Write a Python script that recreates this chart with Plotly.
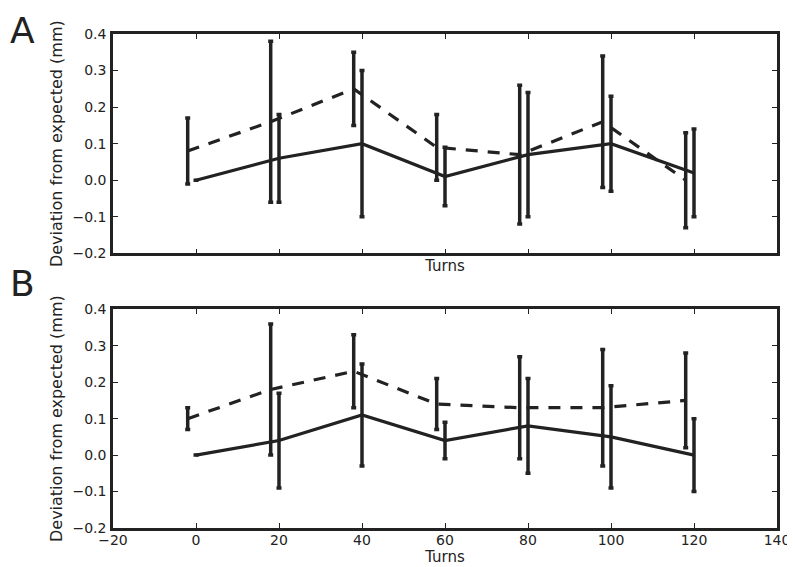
import plotly.graph_objects as go
from plotly.subplots import make_subplots

# ---- data ----
x_solid = [0, 20, 40, 60, 80, 100, 120]
x_dashed = [-2, 18, 38, 58, 78, 98, 118]

a_solid = [0.00, 0.06, 0.10, 0.01, 0.07, 0.10, 0.02]
a_solid_err = [0.00, 0.12, 0.20, 0.08, 0.17, 0.13, 0.12]
a_dashed = [0.08, 0.16, 0.25, 0.09, 0.07, 0.16, 0.00]
a_dashed_err = [0.09, 0.22, 0.10, 0.09, 0.19, 0.18, 0.13]

b_solid = [0.00, 0.04, 0.11, 0.04, 0.08, 0.05, 0.00]
b_solid_err = [0.00, 0.13, 0.14, 0.05, 0.13, 0.14, 0.10]
b_dashed = [0.10, 0.18, 0.23, 0.14, 0.13, 0.13, 0.15]
b_dashed_err = [0.03, 0.18, 0.10, 0.07, 0.14, 0.16, 0.13]

x_ticks = [-20, 0, 20, 40, 60, 80, 100, 120, 140]
y_ticks = [-0.2, -0.1, 0.0, 0.1, 0.2, 0.3, 0.4]

INK = "#222222"
FONT = "DejaVu Sans"

fig = make_subplots(rows=2, cols=1, shared_xaxes=False, vertical_spacing=0.0)

def add_panel(row, solid, solid_err, dashed, dashed_err):
    fig.add_trace(go.Scatter(
        x=x_dashed, y=dashed, mode="lines",
        line=dict(color=INK, width=3.2, dash="12px,10px"),
        error_y=dict(type="data", array=dashed_err, visible=True,
                     color=INK, thickness=3.5, width=2.5),
        showlegend=False, hoverinfo="skip"), row=row, col=1)
    fig.add_trace(go.Scatter(
        x=x_solid, y=solid, mode="lines",
        line=dict(color=INK, width=3.2),
        error_y=dict(type="data", array=solid_err, visible=True,
                     color=INK, thickness=3.5, width=2.5),
        showlegend=False, hoverinfo="skip"), row=row, col=1)

add_panel(1, a_solid, a_solid_err, a_dashed, a_dashed_err)
add_panel(2, b_solid, b_solid_err, b_dashed, b_dashed_err)

axis_common = dict(
    showline=True, linecolor=INK, linewidth=2.5, mirror="allticks",
    ticks="inside", ticklen=5, tickwidth=1, tickcolor=INK,
    showgrid=False, zeroline=False, automargin=False,
    tickfont=dict(family=FONT, size=14, color=INK),
)

for r, dom in [(1, [0.556, 1.0]), (2, [0.0, 0.4427])]:
    fig.update_xaxes(range=[-20, 140], tickvals=x_ticks,
                     ticktext=[("\u2212" if v < 0 else "") + str(abs(v)) for v in x_ticks],
                     title=dict(text="Turns", font=dict(family=FONT, size=15, color=INK),
                                standoff=5 if r == 2 else 6),
                     showticklabels=(r == 2),
                     ticklabelstandoff=-3,
                     row=r, col=1, **axis_common)
    fig.update_yaxes(range=[-0.2, 0.4], tickvals=y_ticks,
                     ticktext=[("\u2212" if v < 0 else "") + f"{abs(v):.1f}" for v in y_ticks],
                     domain=dom,
                     ticklabelstandoff=1,
                     title=dict(text="Deviation from expected (mm)",
                                font=dict(family=FONT, size=16, color=INK), standoff=6),
                     row=r, col=1, **axis_common)

fig.update_layout(
    width=787, height=559,
    margin=dict(l=105, r=18, t=26, b=39),
    paper_bgcolor="white", plot_bgcolor="white",
    font=dict(family=FONT, color=INK),
    annotations=[
        dict(text="A", x=-0.1581, y=1.0526, xref="paper", yref="paper",
             xanchor="left", yanchor="top", showarrow=False,
             font=dict(family=FONT, size=36, color=INK)),
        dict(text="B", x=-0.1581, y=0.4953, xref="paper", yref="paper",
             xanchor="left", yanchor="middle", showarrow=False,
             font=dict(family=FONT, size=36, color=INK)),
    ],
)

fig.write_html("out.html")
